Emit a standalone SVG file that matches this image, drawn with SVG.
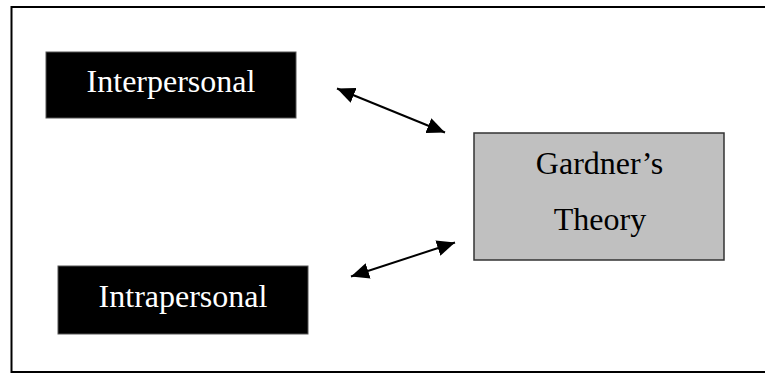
<svg xmlns="http://www.w3.org/2000/svg" width="765" height="374" viewBox="0 0 765 374">
  <defs>
    <style>
      .frame { fill: none; stroke: #000; stroke-width: 2; }
      .dark { fill: #000; stroke: #555; stroke-width: 1; }
      .grey { fill: #c0c0c0; stroke: #333; stroke-width: 1.5; }
      .lbl { font-family: "Liberation Serif", "Times New Roman", serif; font-size: 32px; text-anchor: middle; }
      .lbl-w { fill: #fff; }
      .lbl-b { fill: #000; }
      .conn { stroke: #000; stroke-width: 2; fill: none; marker-start: url(#head); marker-end: url(#head); }
    </style>
    <marker id="head" markerUnits="userSpaceOnUse" markerWidth="20" markerHeight="16" refX="18" refY="8" orient="auto-start-reverse">
      <path d="M0,0 L18,8 L0,16 z" fill="#000"/>
    </marker>
  </defs>
  <rect width="765" height="374" fill="#fff"/>
  <path class="frame" d="M 770 7 H 11.5 V 372 H 770"/>
  <g id="interpersonal">
    <rect class="dark" x="46" y="52" width="250" height="66"/>
    <text class="lbl lbl-w" x="171" y="92">Interpersonal</text>
  </g>
  <g id="intrapersonal">
    <rect class="dark" x="58" y="266" width="250" height="68"/>
    <text class="lbl lbl-w" x="183" y="307">Intrapersonal</text>
  </g>
  <g id="gardners-theory">
    <rect class="grey" x="474" y="133" width="250" height="127"/>
    <text class="lbl lbl-b" x="599.5" y="174">Gardner’s</text>
    <text class="lbl lbl-b" x="600" y="230">Theory</text>
  </g>
  <g id="connectors">
    <line class="conn" x1="337" y1="88.5" x2="445" y2="132.5"/>
    <line class="conn" x1="351" y1="276.5" x2="455" y2="242.5"/>
  </g>
</svg>
